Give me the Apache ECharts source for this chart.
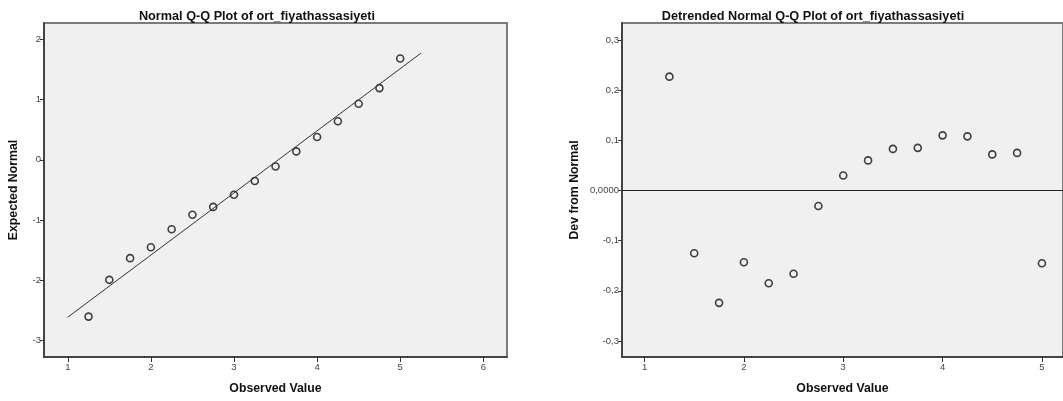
<!DOCTYPE html>
<html>
<head>
<meta charset="utf-8">
<script src="https://cdn.jsdelivr.net/npm/echarts@6/dist/echarts.min.js"></script>
<style>
  html, body { margin: 0; padding: 0; background: #fff; }
  #main { width: 1063px; height: 401px; }
</style>
</head>
<body>
<div id="main"></div>
<script>
// observed values (same for both plots)
var observed = [1.25, 1.5, 1.75, 2.0, 2.25, 2.5, 2.75, 3.0, 3.25, 3.5, 3.75, 4.0, 4.25, 4.5, 4.75, 5.0];
// Normal Q-Q: expected normal values
var expectedNormal = [-2.60, -1.99, -1.63, -1.45, -1.15, -0.91, -0.78, -0.58, -0.35, -0.11, 0.14, 0.38, 0.64, 0.93, 1.19, 1.68];
// reference line ends
var refLineX = [1.0, 5.25];
var refLineY = [-2.61, 1.77];
// Detrended: deviation from normal
var devFromNormal = [0.227, -0.125, -0.224, -0.143, -0.185, -0.166, -0.031, 0.030, 0.060, 0.083, 0.085, 0.110, 0.108, 0.072, 0.075, -0.145];

var leftXTicks = [1, 2, 3, 4, 5, 6];
var leftYTicks = [-3, -2, -1, 0, 1, 2];
var rightXTicks = [1, 2, 3, 4, 5];
var rightYTicks = [-0.3, -0.2, -0.1, 0, 0.1, 0.2, 0.3];

var myChart = echarts.init(document.getElementById('main'));

function pairs(xs, ys) {
  var out = [];
  for (var i = 0; i < xs.length; i++) out.push([xs[i], ys[i]]);
  return out;
}
function commaFmt(v) {
  if (Math.abs(v) < 1e-9) return '0,0000';
  return v.toFixed(1).replace('.', ',');
}

var tickLabel = { fontSize: 9.5, color: '#444', fontFamily: 'Liberation Sans' };
var nameStyle = { fontSize: 12.3, fontWeight: 'bold', color: '#111', fontFamily: 'Liberation Sans' };
var titleStyle = { fontSize: 12.7, fontWeight: 'bold', color: '#111', fontFamily: 'Liberation Sans' };

function xAxisOf(idx, min, max, ticks) {
  return {
    gridIndex: idx, type: 'value', min: min, max: max,
    name: 'Observed Value', nameLocation: 'middle', nameGap: 26, nameTextStyle: nameStyle,
    axisLine: { show: true, onZero: false, lineStyle: { color: '#333', width: 1.5 } },
    axisTick: { show: true, length: 5, customValues: ticks, lineStyle: { color: '#333' } },
    axisLabel: Object.assign({ customValues: ticks, margin: 5 }, tickLabel),
    splitLine: { show: false }
  };
}
function yAxisOf(idx, min, max, ticks, fmt, gap, name) {
  return {
    gridIndex: idx, type: 'value', min: min, max: max,
    name: name, nameLocation: 'middle', nameGap: gap, nameTextStyle: nameStyle,
    axisLine: { show: true, onZero: false, lineStyle: { color: '#333', width: 1.5 } },
    axisTick: { show: true, length: 4, customValues: ticks, lineStyle: { color: '#333' } },
    axisLabel: Object.assign({ customValues: ticks, margin: 3, formatter: fmt }, tickLabel),
    splitLine: { show: false }
  };
}

var option = {
  backgroundColor: '#fff',
  animation: false,
  title: [
    { text: 'Normal Q-Q Plot of ort_fiyathassasiyeti', left: 252, top: 5, textAlign: 'center', textStyle: titleStyle },
    { text: 'Detrended Normal Q-Q Plot of ort_fiyathassasiyeti', left: 808, top: 5, textAlign: 'center', textStyle: titleStyle }
  ],
  grid: [
    { left: 44, top: 23, width: 463, height: 334, show: true, backgroundColor: '#f0f0f0', borderColor: '#7a7a7a', borderWidth: 2 },
    { left: 622, top: 23, width: 443, height: 334, show: true, backgroundColor: '#f0f0f0', borderColor: '#7a7a7a', borderWidth: 2 }
  ],
  xAxis: [
    xAxisOf(0, 0.714, 6.285, leftXTicks),
    xAxisOf(1, 0.773, 5.212, rightXTicks)
  ],
  yAxis: [
    yAxisOf(0, -3.27, 2.27, leftYTicks, function (v) { return String(v); }, 24, 'Expected Normal'),
    yAxisOf(1, -0.332, 0.334, rightYTicks, commaFmt, 41, 'Dev from Normal')
  ],
  series: [
    {
      type: 'line', xAxisIndex: 0, yAxisIndex: 0,
      data: pairs(refLineX, refLineY), symbol: 'none',
      lineStyle: { color: '#333', width: 1 }, silent: true
    },
    {
      type: 'scatter', xAxisIndex: 0, yAxisIndex: 0,
      data: pairs(observed, expectedNormal), symbol: 'circle', symbolSize: 7,
      itemStyle: { color: '#f0f0f0', borderColor: '#111', borderWidth: 1.6 }
    },
    {
      type: 'scatter', xAxisIndex: 1, yAxisIndex: 1,
      data: pairs(observed, devFromNormal), symbol: 'circle', symbolSize: 7,
      itemStyle: { color: '#f0f0f0', borderColor: '#111', borderWidth: 1.6 },
      markLine: {
        silent: true, symbol: 'none', label: { show: false },
        lineStyle: { color: '#222', width: 1.2, type: 'solid' },
        data: [{ yAxis: 0 }]
      }
    }
  ]
};
myChart.setOption(option);
</script>
</body>
</html>
